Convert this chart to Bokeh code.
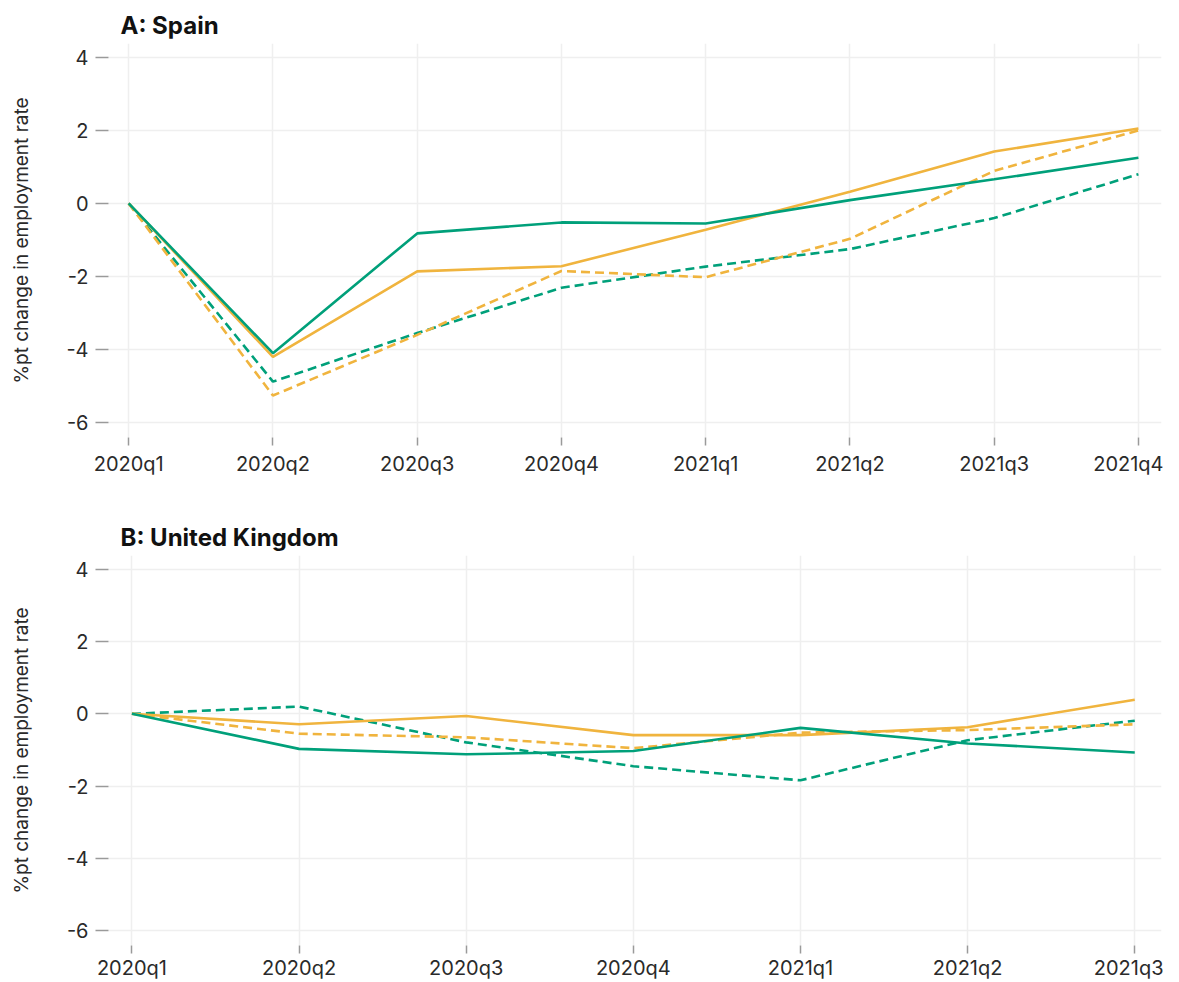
from bokeh.plotting import figure
from bokeh.layouts import column
from bokeh.models import FixedTicker, Range1d
from bokeh.embed import file_html
from bokeh.resources import INLINE

# ---- data ----
quarters_es = ["2020q1", "2020q2", "2020q3", "2020q4", "2021q1", "2021q2", "2021q3", "2021q4"]
es_green_solid = [0, -4.10, -0.82, -0.52, -0.55, 0.09, 0.66, 1.25]
es_orange_solid = [0, -4.20, -1.86, -1.72, -0.72, 0.32, 1.42, 2.05]
es_green_dash = [0, -4.88, -3.55, -2.31, -1.73, -1.25, -0.40, 0.80]
es_orange_dash = [0, -5.26, -3.60, -1.85, -2.02, -0.97, 0.89, 2.00]

quarters_uk = ["2020q1", "2020q2", "2020q3", "2020q4", "2021q1", "2021q2", "2021q3"]
uk_green_solid = [0, -0.97, -1.12, -1.03, -0.39, -0.82, -1.07]
uk_orange_solid = [0, -0.29, -0.06, -0.59, -0.59, -0.37, 0.39]
uk_green_dash = [0, 0.20, -0.79, -1.45, -1.84, -0.73, -0.19]
uk_orange_dash = [0, -0.55, -0.65, -0.95, -0.52, -0.45, -0.29]

y_ticks = [-6, -4, -2, 0, 2, 4]
y_tick_labels = ["-6", "-4", "-2", "0", "2", "4"]
y_label = "%pt change in employment rate"

GREEN = "#00A07A"
ORANGE = "#F0B43E"
FONT = "Inter"


def make_panel(title, quarters, gs, os_, gd, od, height, border_top, border_bottom, x_standoff):
    n = len(quarters)
    xs = list(range(n))
    p = figure(width=1163, height=height, output_backend="svg", toolbar_location=None,
               x_range=Range1d(-0.14, n - 1 + 0.16), y_range=Range1d(-6.41, 4.38),
               min_border_left=108, min_border_right=2,
               min_border_top=border_top, min_border_bottom=border_bottom)
    p.title.text = title
    p.title.text_font = FONT
    p.title.text_font_size = "24px"
    p.title.text_font_style = "bold"
    p.title.text_color = "#111111"
    p.title.align = "left"
    p.title.offset = 12
    p.title.standoff = 8
    p.outline_line_color = None
    p.background_fill_color = "white"
    p.border_fill_color = "white"

    p.xaxis.ticker = FixedTicker(ticks=xs)
    p.xaxis.major_label_overrides = {i: q for i, q in enumerate(quarters)}
    p.yaxis.ticker = FixedTicker(ticks=y_ticks)
    p.yaxis.major_label_overrides = {t: s for t, s in zip(y_ticks, y_tick_labels)}

    for ax in (p.xaxis, p.yaxis):
        ax.axis_line_color = None
        ax.minor_tick_line_color = None
        ax.major_tick_line_color = "#9a9a9a"
        ax.major_tick_line_width = 1.5
        ax.major_tick_in = 0
        ax.major_label_text_font = FONT
        ax.major_label_text_font_size = "20px"
        ax.major_label_text_color = "#2a2a2a"
    p.xaxis.major_tick_out = 8
    p.xaxis.major_label_standoff = x_standoff
    p.yaxis.major_tick_out = 13
    p.yaxis.major_label_standoff = 7
    p.yaxis.axis_label = y_label
    p.yaxis.axis_label_text_font = FONT
    p.yaxis.axis_label_text_font_size = "19px"
    p.yaxis.axis_label_text_font_style = "normal"
    p.yaxis.axis_label_text_color = "#2a2a2a"
    p.yaxis.axis_label_standoff = 30

    p.grid.grid_line_color = "#efefef"
    p.grid.grid_line_width = 1.5

    p.line(xs, gd, line_color=GREEN, line_width=2.6, line_dash="9 5")
    p.line(xs, od, line_color=ORANGE, line_width=2.6, line_dash="9 5")
    p.line(xs, os_, line_color=ORANGE, line_width=2.6)
    p.line(xs, gs, line_color=GREEN, line_width=2.6)
    return p


p1 = make_panel("A: Spain", quarters_es, es_green_solid, es_orange_solid,
                es_green_dash, es_orange_dash, 490, 43, 53, 6)
p2 = make_panel("B: United Kingdom", quarters_uk, uk_green_solid, uk_orange_solid,
                uk_green_dash, uk_orange_dash, 492, 65, 30, 2)

layout = column(p1, p2, spacing=0)
open("out.html", "w").write(file_html(layout, INLINE))
